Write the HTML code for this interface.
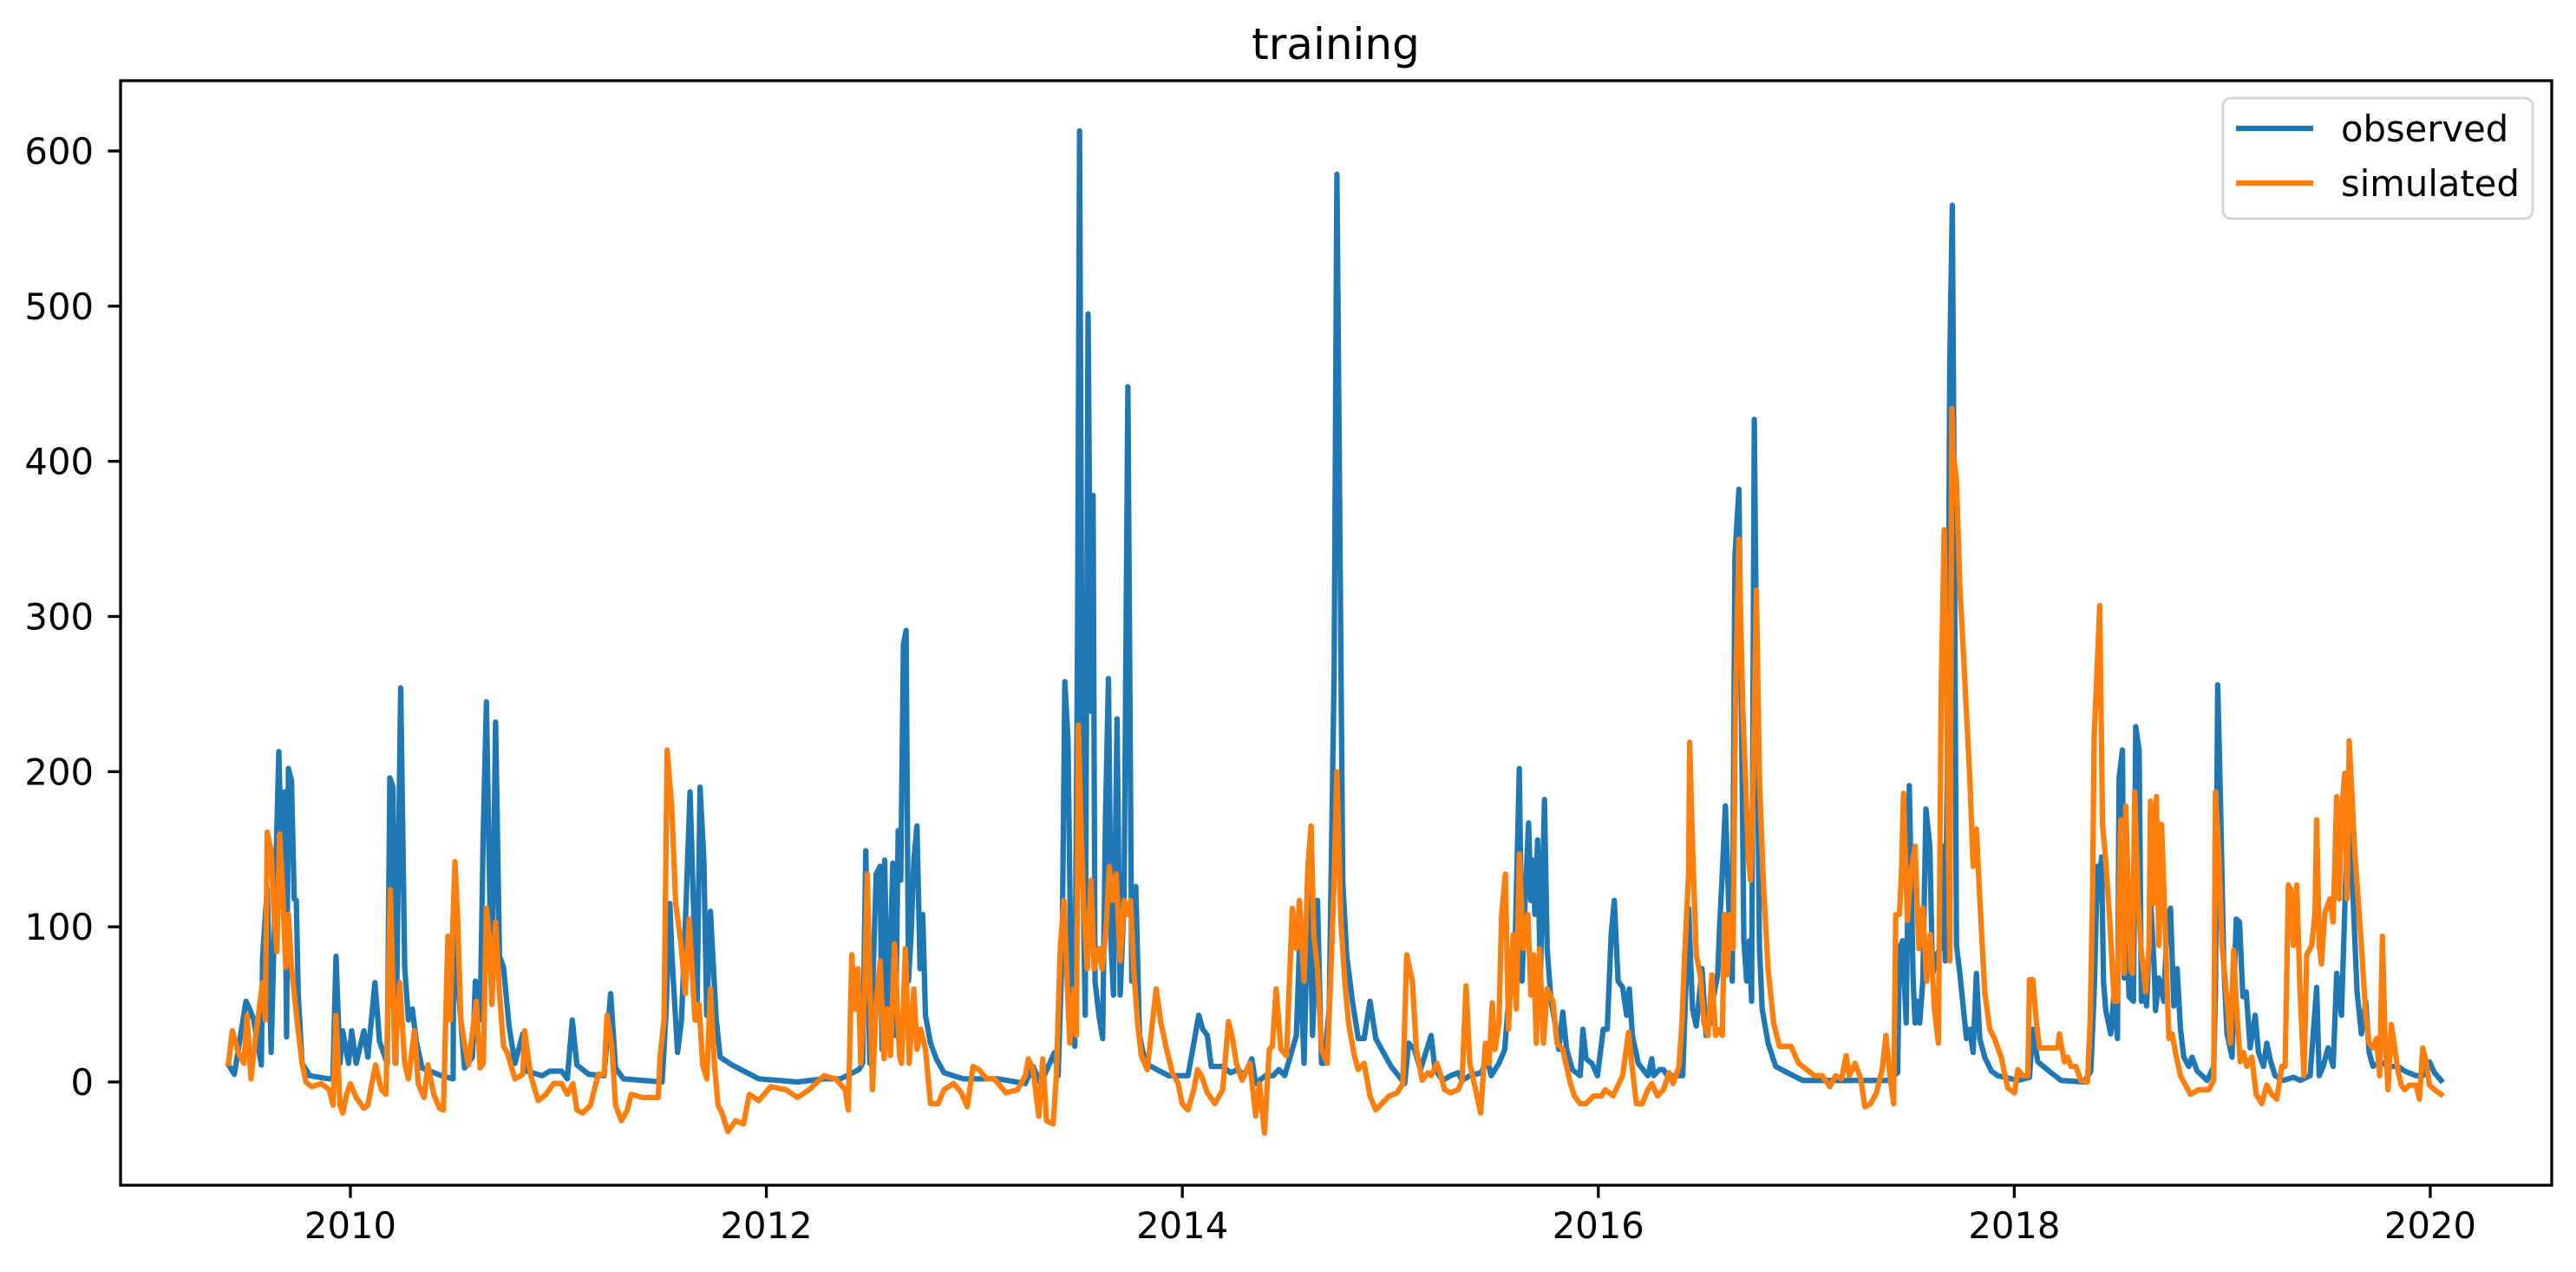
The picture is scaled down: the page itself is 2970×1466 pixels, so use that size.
<!DOCTYPE html>
<html>
<head>
<meta charset="utf-8">
<style>
html,body{margin:0;padding:0;background:#fff;}
svg{display:block;}
text{font-family:"DejaVu Sans","Liberation Sans",sans-serif;fill:#000;}
</style>
</head>
<body>
<svg id="chart" width="2970" height="1466" viewBox="0 0 2970 1466" xmlns="http://www.w3.org/2000/svg">
<rect x="0" y="0" width="2970" height="1466" fill="#fff"/>
<text x="1540" y="68" font-size="50" text-anchor="middle">training</text>
<g id="axes"></g>
<g id="series"></g>
<g id="frame"></g>
<g>
<rect x="2563" y="113" width="357" height="139" rx="9" fill="#fff" fill-opacity="0.8" stroke="#d6d6d6" stroke-width="3"/>
<line x1="2578" y1="148" x2="2667" y2="148" stroke="#1f77b4" stroke-width="6.25"/>
<text x="2699" y="163" font-size="41.7">observed</text>
<line x1="2578" y1="211" x2="2667" y2="211" stroke="#ff7f0e" stroke-width="6.25"/>
<text x="2699" y="226" font-size="41.7">simulated</text>
</g>
</svg>
<script>
const xTicks = [2010, 2012, 2014, 2016, 2018, 2020];
const yTicks = [0, 100, 200, 300, 400, 500, 600];

const obsSeries = [
[2009.414,11],[2009.442,5],[2009.498,52],[2009.516,47],[2009.535,40],[2009.572,11],[2009.578,81],[2009.600,125],[2009.619,19],[2009.656,213],[2009.674,115],[2009.684,187],[2009.693,29],[2009.702,202],[2009.717,194],[2009.730,118],[2009.740,117],[2009.749,57],[2009.768,12],[2009.805,4],[2009.898,2],[2009.916,2],[2009.931,81],[2009.950,12],[2009.963,33],[2009.991,12],[2010.006,33],[2010.028,12],[2010.065,33],[2010.084,16],[2010.118,64],[2010.140,26],[2010.177,12],[2010.190,196],[2010.205,190],[2010.218,12],[2010.242,254],[2010.261,74],[2010.279,40],[2010.298,47],[2010.317,26],[2010.345,9],[2010.438,4],[2010.494,2],[2010.497,117],[2010.521,57],[2010.549,9],[2010.587,16],[2010.601,65],[2010.624,40],[2010.639,161],[2010.654,245],[2010.670,122],[2010.680,50],[2010.698,232],[2010.717,81],[2010.736,74],[2010.763,36],[2010.791,12],[2010.829,31],[2010.847,7],[2010.922,4],[2010.959,7],[2011.015,7],[2011.043,2],[2011.067,40],[2011.089,11],[2011.145,5],[2011.220,4],[2011.251,57],[2011.275,9],[2011.313,2],[2011.499,0],[2011.517,43],[2011.536,115],[2011.545,84],[2011.555,60],[2011.573,19],[2011.592,40],[2011.610,101],[2011.633,187],[2011.651,108],[2011.666,40],[2011.681,190],[2011.700,142],[2011.713,43],[2011.731,110],[2011.759,40],[2011.778,16],[2011.834,11],[2011.964,2],[2012.150,0],
[2012.277,2],[2012.357,2],[2012.445,8],[2012.463,12],[2012.478,149],[2012.497,12],[2012.510,56],[2012.528,134],[2012.547,139],[2012.556,21],[2012.569,143],[2012.584,30],[2012.608,141],[2012.621,30],[2012.634,162],[2012.646,130],[2012.659,282],[2012.672,291],[2012.683,65],[2012.696,95],[2012.709,143],[2012.724,165],[2012.739,73],[2012.752,108],[2012.765,43],[2012.789,25],[2012.817,15],[2012.854,6],[2012.947,2],[2013.115,2],[2013.245,-1],[2013.282,10],[2013.319,-1],[2013.385,19],[2013.403,4],[2013.422,86],[2013.435,258],[2013.450,221],[2013.468,34],[2013.483,23],[2013.496,282],[2013.506,613],[2013.520,152],[2013.533,43],[2013.547,495],[2013.561,239],[2013.571,378],[2013.580,65],[2013.599,43],[2013.617,28],[2013.630,169],[2013.645,260],[2013.658,86],[2013.669,56],[2013.686,234],[2013.701,56],[2013.720,117],[2013.738,448],[2013.757,65],[2013.776,126],[2013.794,30],[2013.822,12],[2013.878,8],[2013.934,4],[2014.027,4],[2014.079,43],[2014.098,34],[2014.120,30],[2014.139,10],[2014.194,10],[2014.232,6],[2014.269,8],[2014.297,4],[2014.334,15],[2014.353,-1],[2014.399,4],[2014.436,4],[2014.464,8],[2014.492,4],[2014.548,30],[2014.563,86],[2014.585,12],[2014.609,143],[2014.626,30],[2014.650,117],[2014.669,12],[2014.682,12],[2014.706,47],[2014.730,265],[2014.743,585],[2014.756,378],[2014.771,130],[2014.790,82],[2014.818,52],[2014.846,28],[2014.874,28],[2014.902,52],[2014.930,28],[2014.958,21],[2015.004,10],[2015.069,-1],[2015.088,25],[2015.116,21],[2015.145,8],
[2015.196,30],[2015.215,8],[2015.252,1],[2015.289,4],[2015.326,6],[2015.345,1],[2015.382,4],[2015.438,6],[2015.466,15],[2015.485,4],[2015.522,12],[2015.550,21],[2015.568,52],[2015.587,65],[2015.602,99],[2015.620,202],[2015.633,65],[2015.652,130],[2015.665,167],[2015.676,117],[2015.686,143],[2015.695,108],[2015.708,156],[2015.721,65],[2015.741,182],[2015.754,86],[2015.773,52],[2015.792,38],[2015.810,21],[2015.829,45],[2015.848,21],[2015.875,8],[2015.913,4],[2015.926,34],[2015.941,15],[2015.969,12],[2015.996,4],[2016.024,34],[2016.043,34],[2016.062,95],[2016.077,117],[2016.095,65],[2016.117,61],[2016.136,43],[2016.149,60],[2016.164,30],[2016.192,12],[2016.238,4],[2016.257,15],[2016.266,4],[2016.294,8],[2016.313,8],[2016.332,4],[2016.369,4],[2016.406,4],[2016.434,112],[2016.453,47],[2016.471,36],[2016.499,73],[2016.518,30],[2016.536,38],[2016.555,56],[2016.574,69],[2016.583,100],[2016.596,134],[2016.611,178],[2016.626,117],[2016.644,65],[2016.657,339],[2016.676,382],[2016.689,226],[2016.700,91],[2016.713,65],[2016.726,91],[2016.737,52],[2016.750,427],[2016.763,239],[2016.775,86],[2016.788,47],[2016.816,25],[2016.853,10],[2016.909,6],[2016.983,1],[2017.058,1],[2017.392,1],[2017.439,6],[2017.448,86],[2017.463,91],[2017.480,38],[2017.495,191],[2017.514,65],[2017.523,38],[2017.532,52],[2017.545,38],[2017.560,65],[2017.575,176],[2017.594,152],[2017.607,69],[2017.626,82],[2017.644,86],[2017.657,152],[2017.668,78],[2017.681,239],[2017.690,465],[2017.702,565],
[2017.711,376],[2017.722,88],[2017.738,70],[2017.754,49],[2017.770,28],[2017.786,34],[2017.802,19],[2017.818,70],[2017.834,28],[2017.858,16],[2017.890,7],[2017.921,4],[2017.953,3],[2018.017,1],[2018.073,3],[2018.089,34],[2018.113,13],[2018.177,6],[2018.225,1],[2018.336,0],[2018.368,7],[2018.384,58],[2018.400,139],[2018.408,118],[2018.419,145],[2018.429,64],[2018.440,46],[2018.464,31],[2018.480,58],[2018.496,28],[2018.504,196],[2018.520,214],[2018.528,67],[2018.536,115],[2018.552,55],[2018.573,52],[2018.584,229],[2018.600,214],[2018.611,52],[2018.620,64],[2018.636,49],[2018.656,115],[2018.672,76],[2018.679,46],[2018.695,67],[2018.719,52],[2018.735,103],[2018.751,112],[2018.767,49],[2018.783,73],[2018.799,34],[2018.815,16],[2018.839,10],[2018.855,16],[2018.879,7],[2018.927,1],[2018.959,10],[2018.967,58],[2018.978,256],[2018.991,184],[2019.007,76],[2019.023,31],[2019.047,16],[2019.067,105],[2019.083,103],[2019.099,55],[2019.115,58],[2019.134,22],[2019.158,43],[2019.174,19],[2019.198,10],[2019.214,25],[2019.233,13],[2019.254,4],[2019.294,1],[2019.342,3],[2019.374,1],[2019.422,4],[2019.454,61],[2019.466,4],[2019.485,10],[2019.509,22],[2019.533,10],[2019.550,70],[2019.573,43],[2019.594,133],[2019.610,193],[2019.629,118],[2019.648,58],[2019.669,31],[2019.690,52],[2019.706,19],[2019.725,10],[2019.757,13],[2019.805,10],[2019.845,10],[2019.877,7],[2019.932,4],[2019.964,4],[2019.996,13],[2020.020,6],[2020.052,1]
];

const simSeries = [
[2009.414,12],[2009.432,33],[2009.461,19],[2009.488,12],[2009.503,43],[2009.522,2],[2009.544,29],[2009.578,64],[2009.591,40],[2009.600,161],[2009.619,149],[2009.634,105],[2009.647,84],[2009.660,160],[2009.674,125],[2009.689,74],[2009.702,108],[2009.717,74],[2009.730,57],[2009.749,33],[2009.768,12],[2009.786,0],[2009.814,-3],[2009.861,-1],[2009.898,-5],[2009.917,-15],[2009.931,43],[2009.950,-15],[2009.963,-20],[2009.982,-8],[2010.000,-1],[2010.028,-10],[2010.065,-17],[2010.084,-15],[2010.103,-1],[2010.121,11],[2010.149,-5],[2010.171,-8],[2010.192,124],[2010.214,12],[2010.237,64],[2010.261,12],[2010.279,2],[2010.308,33],[2010.326,-1],[2010.354,-10],[2010.373,11],[2010.401,-8],[2010.429,-17],[2010.447,-18],[2010.469,94],[2010.480,40],[2010.490,91],[2010.503,142],[2010.516,104],[2010.531,40],[2010.550,23],[2010.568,11],[2010.605,52],[2010.624,9],[2010.639,12],[2010.654,112],[2010.670,91],[2010.680,50],[2010.698,103],[2010.717,57],[2010.736,23],[2010.754,19],[2010.791,2],[2010.829,5],[2010.838,33],[2010.866,5],[2010.903,-12],[2010.940,-8],[2010.977,-1],[2011.015,-1],[2011.043,-8],[2011.070,-1],[2011.089,-18],[2011.117,-20],[2011.154,-15],[2011.192,5],[2011.220,5],[2011.234,43],[2011.257,23],[2011.275,-15],[2011.303,-25],[2011.331,-18],[2011.350,-8],[2011.406,-10],[2011.480,-10],[2011.489,16],[2011.508,40],[2011.523,214],[2011.545,177],[2011.564,115],[2011.588,91],[2011.610,57],[2011.629,105],[2011.657,40],[2011.676,50],[2011.694,11],[2011.713,2],[2011.731,60],[2011.750,12],[2011.768,-15],[2011.787,-20],[2011.815,-32],[2011.852,-25],[2011.890,-27],[2011.918,-8],[2011.964,-12],[2012.020,-3],[2012.095,-5],[2012.150,-10],[2012.206,-5],
[2012.277,4],[2012.333,2],[2012.379,-5],[2012.394,-18],[2012.411,82],[2012.426,47],[2012.441,73],[2012.454,12],[2012.472,56],[2012.485,134],[2012.510,-5],[2012.528,51],[2012.547,78],[2012.566,15],[2012.580,47],[2012.597,17],[2012.616,89],[2012.640,17],[2012.650,12],[2012.668,86],[2012.687,12],[2012.709,60],[2012.724,21],[2012.742,34],[2012.765,21],[2012.789,-14],[2012.826,-14],[2012.854,-5],[2012.901,-1],[2012.938,-7],[2012.966,-16],[2012.994,10],[2013.022,8],[2013.059,2],[2013.096,2],[2013.152,-7],[2013.208,-5],[2013.245,4],[2013.260,15],[2013.282,8],[2013.310,-22],[2013.329,15],[2013.347,-25],[2013.379,-27],[2013.394,4],[2013.413,86],[2013.431,117],[2013.446,65],[2013.459,25],[2013.478,60],[2013.491,30],[2013.500,230],[2013.515,152],[2013.524,117],[2013.543,73],[2013.561,130],[2013.576,73],[2013.599,86],[2013.614,73],[2013.632,95],[2013.649,139],[2013.664,117],[2013.682,134],[2013.701,78],[2013.720,117],[2013.735,108],[2013.751,117],[2013.766,73],[2013.785,38],[2013.803,17],[2013.831,8],[2013.874,60],[2013.897,38],[2013.924,21],[2013.952,6],[2013.980,-1],[2013.999,-14],[2014.027,-18],[2014.055,-5],[2014.073,8],[2014.092,4],[2014.120,-7],[2014.157,-14],[2014.194,-5],[2014.222,39],[2014.241,28],[2014.260,12],[2014.287,1],[2014.325,12],[2014.353,-22],[2014.371,-1],[2014.395,-33],[2014.418,21],[2014.433,23],[2014.451,60],[2014.474,21],[2014.501,17],[2014.529,112],[2014.548,86],[2014.563,117],[2014.585,65],[2014.604,139],[2014.619,165],[2014.632,95],[2014.650,73],[2014.669,21],[2014.697,12],[2014.716,78],[2014.730,130],[2014.743,200],[2014.762,104],[2014.781,65],[2014.799,38],[2014.827,17],[2014.846,8],[2014.874,12],[2014.902,-9],[2014.930,-18],[2014.958,-14],[2014.995,-9],[2015.032,-7],[2015.060,-1],[2015.079,82],[2015.106,65],[2015.125,21],[2015.153,1],[2015.181,6],
[2015.196,4],[2015.224,12],[2015.243,4],[2015.261,-5],[2015.289,-7],[2015.326,-5],[2015.345,1],[2015.364,62],[2015.382,12],[2015.410,-5],[2015.434,-20],[2015.457,25],[2015.475,12],[2015.490,51],[2015.503,21],[2015.522,38],[2015.535,108],[2015.553,134],[2015.568,34],[2015.591,95],[2015.606,47],[2015.620,147],[2015.639,86],[2015.661,108],[2015.676,56],[2015.689,82],[2015.702,25],[2015.717,86],[2015.736,25],[2015.754,60],[2015.782,52],[2015.801,25],[2015.829,21],[2015.851,8],[2015.866,-1],[2015.885,-9],[2015.913,-14],[2015.941,-14],[2015.978,-9],[2016.015,-9],[2016.034,-5],[2016.071,-9],[2016.099,-1],[2016.117,4],[2016.145,32],[2016.164,8],[2016.183,-14],[2016.211,-14],[2016.238,-5],[2016.257,-1],[2016.285,-9],[2016.313,-5],[2016.341,6],[2016.359,-1],[2016.388,10],[2016.402,38],[2016.415,82],[2016.434,134],[2016.439,219],[2016.453,152],[2016.471,82],[2016.490,69],[2016.508,38],[2016.527,30],[2016.546,69],[2016.564,30],[2016.583,34],[2016.596,30],[2016.607,108],[2016.620,69],[2016.633,108],[2016.648,86],[2016.659,239],[2016.676,350],[2016.695,239],[2016.708,195],[2016.722,143],[2016.732,130],[2016.745,195],[2016.760,317],[2016.775,195],[2016.793,130],[2016.816,73],[2016.843,38],[2016.871,23],[2016.927,23],[2016.946,17],[2016.964,12],[2017.002,8],[2017.039,4],[2017.076,4],[2017.113,-3],[2017.141,4],[2017.169,2],[2017.192,17],[2017.206,4],[2017.234,12],[2017.262,2],[2017.281,-16],[2017.309,-14],[2017.337,-7],[2017.365,8],[2017.383,30],[2017.402,4],[2017.420,-14],[2017.430,108],[2017.448,108],[2017.458,136],[2017.467,186],[2017.486,104],[2017.504,136],[2017.523,152],[2017.541,86],[2017.560,112],[2017.579,65],[2017.597,95],[2017.616,47],[2017.635,25],[2017.649,256],[2017.663,356],[2017.676,238],[2017.690,78],[2017.700,434],
[2017.706,406],[2017.722,388],[2017.738,319],[2017.754,280],[2017.770,238],[2017.786,196],[2017.802,139],[2017.818,163],[2017.834,118],[2017.858,58],[2017.882,34],[2017.905,28],[2017.937,16],[2017.969,-4],[2018.001,-7],[2018.017,8],[2018.041,4],[2018.065,4],[2018.073,66],[2018.089,66],[2018.105,40],[2018.121,22],[2018.177,22],[2018.209,22],[2018.217,31],[2018.241,13],[2018.257,16],[2018.273,10],[2018.296,10],[2018.320,1],[2018.352,0],[2018.365,40],[2018.376,118],[2018.384,223],[2018.395,256],[2018.411,307],[2018.424,166],[2018.440,142],[2018.461,100],[2018.480,52],[2018.496,52],[2018.504,118],[2018.512,169],[2018.528,70],[2018.536,178],[2018.560,73],[2018.568,70],[2018.579,187],[2018.595,118],[2018.608,88],[2018.632,58],[2018.648,88],[2018.655,181],[2018.671,115],[2018.683,184],[2018.695,88],[2018.708,166],[2018.727,94],[2018.743,28],[2018.759,31],[2018.775,19],[2018.799,4],[2018.823,-2],[2018.847,-8],[2018.887,-5],[2018.935,-5],[2018.959,1],[2018.967,187],[2018.983,148],[2018.999,88],[2019.023,52],[2019.039,25],[2019.055,85],[2019.067,52],[2019.086,13],[2019.102,19],[2019.118,10],[2019.142,16],[2019.163,-8],[2019.190,-14],[2019.214,-2],[2019.238,-8],[2019.262,-11],[2019.286,10],[2019.302,10],[2019.318,127],[2019.329,124],[2019.342,88],[2019.358,127],[2019.374,58],[2019.393,4],[2019.406,82],[2019.430,88],[2019.446,109],[2019.454,169],[2019.466,88],[2019.477,76],[2019.493,109],[2019.517,118],[2019.533,103],[2019.550,184],[2019.562,118],[2019.573,172],[2019.589,199],[2019.600,118],[2019.610,220],[2019.626,178],[2019.637,148],[2019.653,118],[2019.669,88],[2019.690,43],[2019.706,25],[2019.725,22],[2019.741,28],[2019.757,4],[2019.770,94],[2019.781,34],[2019.797,-5],[2019.813,37],[2019.829,22],[2019.845,7],[2019.861,-2],[2019.877,-5],[2019.900,-2],[2019.932,-2],[2019.948,-11],[2019.964,22],[2019.980,13],[2019.996,-2],[2020.020,-5],[2020.052,-8]
];

const NS = 'http://www.w3.org/2000/svg';
const plotLeft = 139, plotRight = 2942, plotTop = 93, plotBottom = 1366;
const xMin = 2008.895, pxPerYear = 239.8;
const yZeroPx = 1247, pxPerUnit = 1.7883;
function xScale(t){ return plotLeft + (t - xMin) * pxPerYear; }
function yScale(v){ return yZeroPx - v * pxPerUnit; }

const axes = document.getElementById('axes');
const series = document.getElementById('series');
const frame = document.getElementById('frame');

function mk(tag, attrs, parent){
  const el = document.createElementNS(NS, tag);
  for (const k in attrs) el.setAttribute(k, attrs[k]);
  parent.appendChild(el);
  return el;
}

// clip path
const defs = mk('defs', {}, axes);
const clip = mk('clipPath', {id:'plotclip'}, defs);
mk('rect', {x:plotLeft, y:plotTop, width:plotRight-plotLeft, height:plotBottom-plotTop}, clip);

xTicks.forEach(function(t){
  const x = xScale(t);
  const tk = mk('line', {x1:x, y1:plotBottom, x2:x, y2:plotBottom+14.6, stroke:'#000', 'stroke-width':3.3}, axes);
  
  
  const lb = mk('text', {x:x, y:1427, 'font-size':41.7, 'text-anchor':'middle'}, axes);
  lb.textContent = String(t);
  
  
});
yTicks.forEach(function(v){
  const y = yScale(v);
  const tk = mk('line', {x1:plotLeft-14.6, y1:y, x2:plotLeft, y2:y, stroke:'#000', 'stroke-width':3.3}, axes);
  
  
  const lb = mk('text', {x:108, y:y+15, 'font-size':41.7, 'text-anchor':'end'}, axes);
  lb.textContent = String(v);
  
  
});

function drawLine(data, color, name){
  const pts = data.map(function(p){ return xScale(p[0]).toFixed(1) + ',' + yScale(p[1]).toFixed(1); }).join(' ');
  const pl = mk('polyline', {points:pts, fill:'none', stroke:color, 'stroke-width':6.25, 'stroke-linejoin':'round', 'stroke-linecap':'square', 'clip-path':'url(#plotclip)'}, series);
  
  
}
drawLine(obsSeries, '#1f77b4', 'observed-line');
drawLine(simSeries, '#ff7f0e', 'simulated-line');

const border = mk('rect', {x:plotLeft, y:plotTop, width:plotRight-plotLeft, height:plotBottom-plotTop, fill:'none', stroke:'#000', 'stroke-width':3.3}, frame);


</script>
</body>
</html>
